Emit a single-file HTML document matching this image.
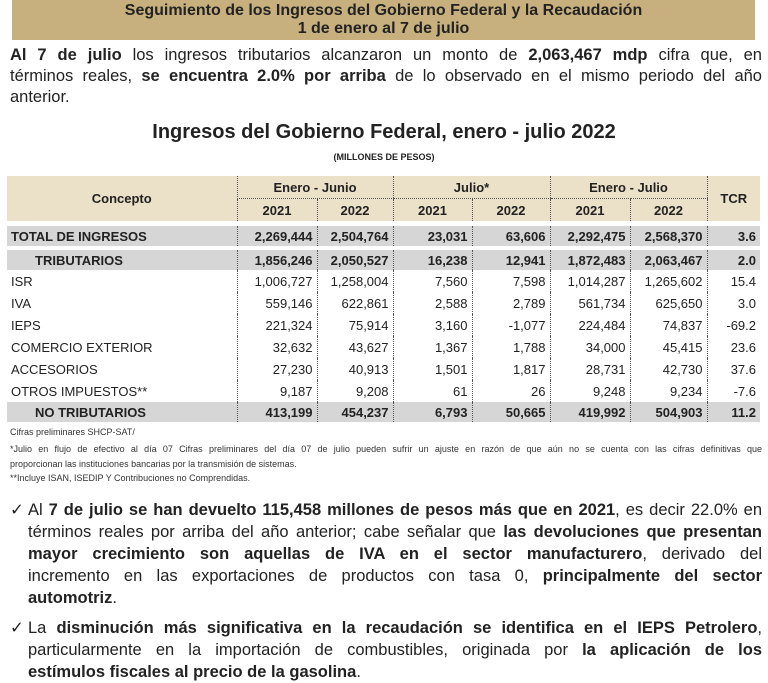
<!DOCTYPE html>
<html><head><meta charset="utf-8"><style>
body{margin:0;width:768px;height:681px;background:#fff;position:relative;overflow:hidden;font-family:"Liberation Sans",sans-serif;color:#222}
.a{position:absolute;white-space:nowrap}
.hdr{left:12px;top:0;width:743px;height:38px;background:#c8b07e;text-align:center;font-weight:bold;font-size:16px;line-height:18px;color:#222;padding-top:2px}
.j{display:block;text-align:justify;text-align-last:justify;white-space:normal}
.l{display:block;text-align:left}
.p{left:10px;width:752px;font-size:16.5px;line-height:21px}
table{position:absolute;left:7px;top:176px;border-collapse:collapse;font-size:13px}
td{padding:0 4px;height:22px;text-align:right;white-space:nowrap}
td.c{text-align:left}
.h td{background:#ebe0c8;font-weight:bold;text-align:center;height:22px}
.g td{background:#d6d6d6;font-weight:bold;height:20px}
.d{border-left:1.5px dotted #555}
.t{position:absolute;left:10px;font-size:9px;color:#333;white-space:nowrap}
.b{left:10px;width:752px;font-size:16.5px;line-height:22px;padding-left:18px;box-sizing:border-box}
.b:before{content:"✓";position:absolute;left:0;top:0}
</style></head><body>
<div class="a hdr">Seguimiento de los Ingresos del Gobierno Federal y la Recaudación<br>1 de enero al 7 de julio</div>
<div class="a p" style="top:45px"><span class="j"><b>Al 7 de julio</b> los ingresos tributarios alcanzaron un monto de <b>2,063,467 mdp</b> cifra que, en</span><span class="j">términos reales, <b>se encuentra 2.0% por arriba</b> de lo observado en el mismo periodo del año</span><span class="l">anterior.</span></div>
<div class="a" style="left:0;width:768px;text-align:center;top:121px;font-size:20px;font-weight:bold">Ingresos del Gobierno Federal, enero - julio 2022</div>
<div class="a" style="left:0;width:768px;text-align:center;top:152px;font-size:9px;font-weight:bold">(MILLONES DE PESOS)</div>
<table>
<colgroup><col style="width:230px"><col style="width:80px"><col style="width:76px"><col style="width:79px"><col style="width:78px"><col style="width:80px"><col style="width:77px"><col style="width:53px"></colgroup>
<tr class="h"><td rowspan="2" style="vertical-align:middle">Concepto</td><td colspan="2" class="d" style="border-bottom:1px dotted #555">Enero - Junio</td><td colspan="2" class="d" style="border-bottom:1px dotted #555">Julio*</td><td colspan="2" class="d" style="border-bottom:1px dotted #555">Enero - Julio</td><td rowspan="2" class="d">TCR</td></tr>
<tr class="h"><td class="d">2021</td><td class="d">2022</td><td class="d">2021</td><td class="d">2022</td><td class="d">2021</td><td class="d">2022</td></tr>
<tr><td colspan="8" style="height:5px"></td></tr>
<tr class="g"><td class="c">TOTAL DE INGRESOS</td><td class="d">2,269,444</td><td class="d">2,504,764</td><td class="d">23,031</td><td class="d">63,606</td><td class="d">2,292,475</td><td class="d">2,568,370</td><td class="d">3.6</td></tr>
<tr><td colspan="8" style="height:4px"></td></tr>
<tr class="g"><td class="c" style="padding-left:28px">TRIBUTARIOS</td><td class="d">1,856,246</td><td class="d">2,050,527</td><td class="d">16,238</td><td class="d">12,941</td><td class="d">1,872,483</td><td class="d">2,063,467</td><td class="d">2.0</td></tr>
<tr><td class="c">ISR</td><td class="d">1,006,727</td><td class="d">1,258,004</td><td class="d">7,560</td><td class="d">7,598</td><td class="d">1,014,287</td><td class="d">1,265,602</td><td class="d">15.4</td></tr>
<tr><td class="c">IVA</td><td class="d">559,146</td><td class="d">622,861</td><td class="d">2,588</td><td class="d">2,789</td><td class="d">561,734</td><td class="d">625,650</td><td class="d">3.0</td></tr>
<tr><td class="c">IEPS</td><td class="d">221,324</td><td class="d">75,914</td><td class="d">3,160</td><td class="d">-1,077</td><td class="d">224,484</td><td class="d">74,837</td><td class="d">-69.2</td></tr>
<tr><td class="c">COMERCIO EXTERIOR</td><td class="d">32,632</td><td class="d">43,627</td><td class="d">1,367</td><td class="d">1,788</td><td class="d">34,000</td><td class="d">45,415</td><td class="d">23.6</td></tr>
<tr><td class="c">ACCESORIOS</td><td class="d">27,230</td><td class="d">40,913</td><td class="d">1,501</td><td class="d">1,817</td><td class="d">28,731</td><td class="d">42,730</td><td class="d">37.6</td></tr>
<tr><td class="c">OTROS IMPUESTOS**</td><td class="d">9,187</td><td class="d">9,208</td><td class="d">61</td><td class="d">26</td><td class="d">9,248</td><td class="d">9,234</td><td class="d">-7.6</td></tr>
<tr class="g"><td class="c" style="padding-left:28px">NO TRIBUTARIOS</td><td class="d">413,199</td><td class="d">454,237</td><td class="d">6,793</td><td class="d">50,665</td><td class="d">419,992</td><td class="d">504,903</td><td class="d">11.2</td></tr>
</table>
<div class="t" style="top:427px">Cifras preliminares SHCP-SAT/</div>
<div class="t" style="top:442px;width:752px;line-height:15px"><span class="j">*Julio en flujo de efectivo al día 07 Cifras preliminares del día 07 de julio pueden sufrir un ajuste en razón de que aún no se cuenta con las cifras definitivas que</span><span class="l">proporcionan las instituciones bancarias por la transmisión de sistemas.</span></div>
<div class="t" style="top:473px">**Incluye ISAN, ISEDIP Y Contribuciones no Comprendidas.</div>
<div class="a b" style="top:499px"><span class="j">Al <b>7 de julio se han devuelto 115,458 millones de pesos más que en 2021</b>, es decir 22.0% en</span><span class="j">términos reales por arriba del año anterior; cabe señalar que <b>las devoluciones que presentan</b></span><span class="j"><b>mayor crecimiento son aquellas de IVA en el sector manufacturero</b>, derivado del</span><span class="j">incremento en las exportaciones de productos con tasa 0, <b>principalmente del sector</b></span><span class="l"><b>automotriz</b>.</span></div>
<div class="a b" style="top:617px"><span class="j">La <b>disminución más significativa en la recaudación se identifica en el IEPS Petrolero</b>,</span><span class="j">particularmente en la importación de combustibles, originada por <b>la aplicación de los</b></span><span class="l"><b>estímulos fiscales al precio de la gasolina</b>.</span></div>
</body></html>
